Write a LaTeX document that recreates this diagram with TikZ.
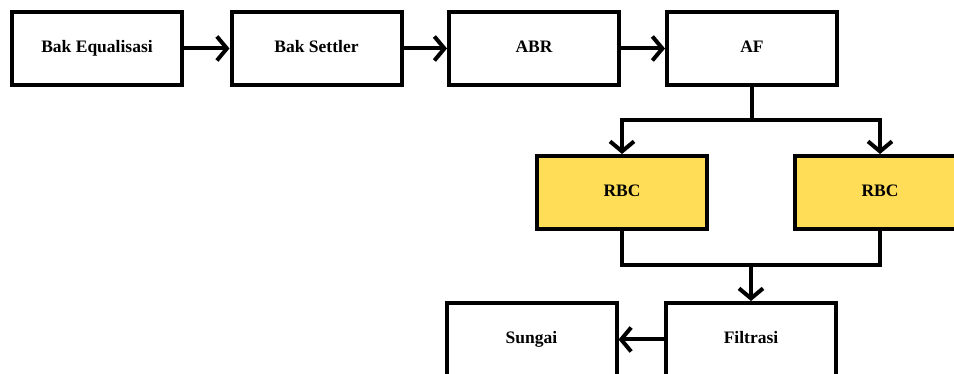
\documentclass[tikz,border=0pt]{standalone}
\usepackage{fontspec}
\setmainfont{Liberation Serif}
\usetikzlibrary{arrows.meta}
\definecolor{rbcyellow}{HTML}{FFDD57}
\tikzset{
  box/.style={draw=black, line width=4pt, fill=white, minimum width=170pt, minimum height=73pt, inner sep=0pt,
    text height=12pt, text depth=3.5pt,
    font=\fontsize{17.5}{20}\selectfont\bfseries},
  rbcbox/.style={box, fill=rbcyellow},
  arr/.style={line width=4pt, -{Straight Barb[length=10pt,width=24pt]}},
  conn/.style={line width=4pt}
}
\begin{document}
\begin{tikzpicture}[x=1pt,y=-1pt]
\useasboundingbox (0,0) rectangle (954,374);
\node[box] (eq) at (97,48.5) {Bak Equalisasi};
\node[box] (set) at (316.5,48.5) {Bak Settler};
\node[box] (abr) at (534,48.5) {ABR};
\node[box] (af) at (752,48.5) {AF};
\node[rbcbox] (rbc1) at (622,192.5) {RBC};
\node[rbcbox] (rbc2) at (880,192.5) {RBC};
\node[box] (sungai) at (531.5,339.5) {Sungai};
\node[box] (filt) at (751,339.5) {Filtrasi};
\coordinate (split) at (752,120);
\coordinate (merge) at (751,265);
\draw[arr] (eq) -- (set);
\draw[arr] (set) -- (abr);
\draw[arr] (abr) -- (af);
\draw[arr] (af.south) -- (split) -| (rbc1.north);
\draw[arr] (split) -| (rbc2.north);
\draw[conn] (rbc1.south) |- (merge);
\draw[conn] (rbc2.south) |- (merge);
\draw[arr] (merge) -- (filt.north);
\draw[arr] (filt.west) -- (sungai.east);
\end{tikzpicture}
\end{document}
